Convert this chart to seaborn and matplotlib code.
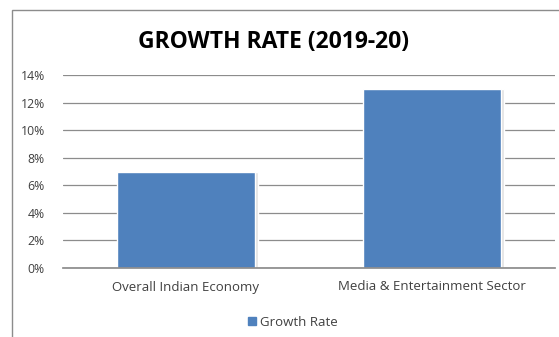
import matplotlib
matplotlib.use("Agg")
import matplotlib.pyplot as plt
import seaborn as sns
import pandas as pd
from matplotlib.patches import Rectangle, Patch
from matplotlib.ticker import FuncFormatter

categories = ["Overall Indian Economy", "Media & Entertainment Sector"]
growth = [7, 13]
series_name = "Growth Rate"
yticks = [0, 2, 4, 6, 8, 10, 12, 14]

sns.set_theme(style="white")
plt.rcParams['font.family'] = ['Open Sans', 'DejaVu Sans']

df = pd.DataFrame({"Category": categories, "Value": growth})

fig = plt.figure(figsize=(5.59, 3.37), dpi=100)
fig.patch.set_facecolor("white")
# outer chart frame
fig.patches.append(Rectangle((12/559, -0.01), 1.0, 1 - 10/337 + 0.01, transform=fig.transFigure,
                             fill=False, edgecolor="#8c8c8c", linewidth=1.0))

ax = fig.add_axes([63/559, 1 - 268/337, 492/559, (268 - 75)/337])
# subtle shadow behind bars
for i, v in enumerate(growth):
    ax.bar(i + 0.012, v, width=0.56, color="#e2e2e2", zorder=1)
sns.barplot(data=df, x="Category", y="Value", color="#4F81BD", saturation=1,
            width=0.56, ax=ax, zorder=2)
ax.set_xlim(-0.5, 1.5)
ax.set_ylim(0, 14)
ax.set_yticks(yticks)
ax.yaxis.set_major_formatter(FuncFormatter(lambda v, p: f"{int(v)}%"))
ax.grid(axis="y", color="#8c8c8c", linewidth=0.9, zorder=0)
ax.set_axisbelow(True)
for s in ["top", "right", "left"]:
    ax.spines[s].set_visible(False)
ax.spines["bottom"].set_color("#8c8c8c")
ax.set_xlabel("")
ax.set_ylabel("")
ax.tick_params(axis="y", labelsize=8.8, colors="#404040", length=0, pad=13)
ax.tick_params(axis="x", labelsize=9.5, colors="#404040", length=0, pad=9)

fig.text(274/559, 1 - 42/337, "GROWTH RATE (2019-20)", ha="center", va="center",
         fontsize=16.5, fontweight="bold", color="black")

fig.legend(handles=[Patch(color="#4F81BD", label=series_name)], loc="center",
           bbox_to_anchor=(293/559, 1 - 322/337), frameon=False, fontsize=9.5,
           handlelength=0.6, handleheight=0.6, handletextpad=0.3, labelcolor="#404040")

fig.savefig("out.png", dpi=100)
